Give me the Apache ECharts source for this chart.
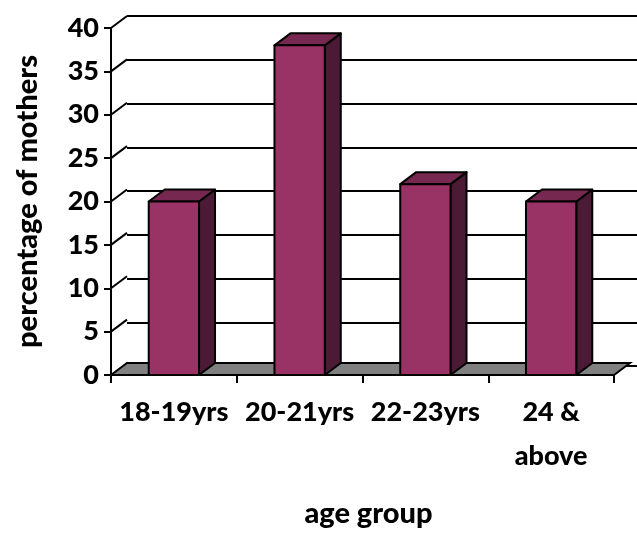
<!DOCTYPE html>
<html>
<head>
<meta charset="utf-8">
<script src="https://cdn.jsdelivr.net/npm/echarts@6/dist/echarts.min.js"></script>
<style>
  html, body { margin: 0; padding: 0; background: #fff; }
  #main { width: 637px; height: 533px; }
</style>
</head>
<body>
<div id="main"></div>
<script>
// data
var categories = ['18-19yrs', '20-21yrs', '22-23yrs', '24 &\nabove'];
var percentages = [20, 38, 22, 20];
var yTicks = [0, 5, 10, 15, 20, 25, 30, 35, 40];

// depth of the fake 3d look
var DX = 16, DY = -12;
var FONT = 'Lato';

var chart = echarts.init(document.getElementById('main'));

function renderBar(params, api) {
  var top = api.coord([api.value(0), api.value(1)]);
  var base = api.coord([api.value(0), 0]);
  var w = api.size([1, 0])[0] * 0.4;
  var xl = top[0] - w / 2, xr = top[0] + w / 2;
  var yt = top[1], yb = base[1];
  var line = { stroke: '#000', lineWidth: 2, lineJoin: 'round' };
  return {
    type: 'group',
    children: [
      { type: 'polygon', shape: { points: [[xr, yt], [xr + DX, yt + DY], [xr + DX, yb + DY], [xr, yb]] },
        style: Object.assign({ fill: '#4b1a35' }, line) },
      { type: 'polygon', shape: { points: [[xl, yt], [xr, yt], [xr + DX, yt + DY], [xl + DX, yt + DY]] },
        style: Object.assign({ fill: '#772851' }, line) },
      { type: 'rect', shape: { x: xl, y: yt, width: w, height: yb - yt },
        style: Object.assign({ fill: '#993366' }, line) }
    ]
  };
}

// side wall diagonals and the grey floor
function renderWall(params, api) {
  var cs = params.coordSys;
  var p = api.coord([0, api.value(0)]);
  var x0 = cs.x, y = p[1];
  var kids = [];
  if (api.value(0) === 0) {
    kids.push({ type: 'polygon',
      shape: { points: [[x0, y], [x0 + cs.width, y], [x0 + cs.width + DX, y + DY], [x0 + DX, y + DY]] },
      style: { fill: '#808080', stroke: '#000', lineWidth: 2 } });
  } else {
    kids.push({ type: 'line', shape: { x1: x0, y1: y, x2: x0 + DX, y2: y + DY },
      style: { stroke: '#000', lineWidth: 2 } });
  }
  return { type: 'group', children: kids };
}

var option = {
  backgroundColor: '#fff',
  animation: false,
  grid: [
    { left: 111, right: 23, top: 28, bottom: 155 },
    { left: 111 + DX, right: 0, top: 28 + DY, bottom: 155 - DY }
  ],
  xAxis: [
    {
      type: 'category',
      data: categories,
      gridIndex: 0,
      axisLine: { lineStyle: { color: '#000', width: 2 } },
      axisTick: { show: true, length: 8, lineStyle: { color: '#000', width: 2 } },
      axisLabel: {
        color: '#000', fontFamily: FONT, fontWeight: 900, fontSize: 27,
        lineHeight: 44, margin: 15, interval: 0
      },
      name: 'age group',
      nameLocation: 'middle',
      nameGap: 124,
      nameTextStyle: { color: '#000', fontFamily: FONT, fontWeight: 900, fontSize: 29, padding: [0, 0, 0, 12] }
    },
    { type: 'category', data: categories, gridIndex: 1, show: false }
  ],
  yAxis: [
    {
      type: 'value',
      gridIndex: 0,
      min: 0, max: 40, interval: 5,
      axisLine: { show: true, lineStyle: { color: '#000', width: 2 } },
      axisTick: { show: true, length: 7, lineStyle: { color: '#000', width: 2 } },
      axisLabel: { color: '#000', fontFamily: FONT, fontWeight: 900, fontSize: 27, margin: 12 },
      splitLine: { show: false },
      name: 'percentage of mothers',
      nameLocation: 'middle',
      nameRotate: 90,
      nameGap: 69,
      nameTextStyle: { color: '#000', fontFamily: FONT, fontWeight: 900, fontSize: 29 }
    },
    {
      type: 'value',
      gridIndex: 1,
      min: 0, max: 40, interval: 5,
      axisLine: { show: false }, axisTick: { show: false }, axisLabel: { show: false },
      splitLine: { show: true, lineStyle: { color: '#000', width: 2 } }
    }
  ],
  series: [
    {
      type: 'custom',
      xAxisIndex: 0, yAxisIndex: 0,
      renderItem: renderWall,
      data: yTicks.map(function (v) { return [v]; }),
      encode: { y: 0 },
      z: 3,
      silent: true
    },
    {
      type: 'custom',
      xAxisIndex: 0, yAxisIndex: 0,
      renderItem: renderBar,
      data: categories.map(function (c, i) { return [i, percentages[i]]; }),
      encode: { x: 0, y: 1 },
      z: 4
    }
  ]
};

chart.setOption(option);
</script>
</body>
</html>
